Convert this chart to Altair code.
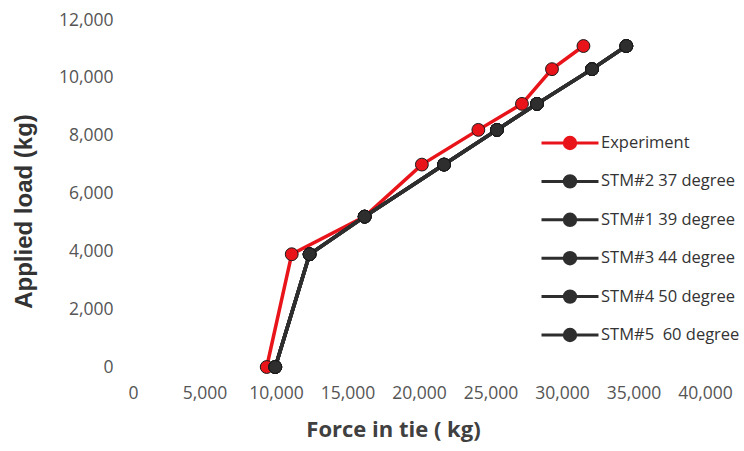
import altair as alt
import pandas as pd

# Applied load steps (kg) shared by every series
load_kg = [0, 3900, 5200, 7000, 8200, 9100, 10300, 11100]

# Measured force in the tie (kg)
experiment_force = [9350, 11100, 16200, 20200, 24150, 27200, 29300, 31500]

# Strut-and-tie model predictions (kg)
stm_names = [
    "STM#2 37 degree",
    "STM#1 39 degree",
    "STM#3 44 degree",
    "STM#4 50 degree",
    "STM#5\u00a0 60 degree",
]
stm_force = [
    [9950, 12350, 16200, 21750, 25450, 28250, 32100, 34500],
    [9950, 12350, 16200, 21750, 25450, 28250, 32100, 34500],
    [9950, 12350, 16200, 21750, 25450, 28250, 32100, 34500],
    [9950, 12350, 16200, 21750, 25450, 28250, 32100, 34500],
    [9950, 12350, 16200, 21750, 25450, 28250, 32100, 34500],
]

series_order = ["Experiment"] + stm_names
series_colors = ["#e8141a"] + ["#2e2e2e"] * len(stm_names)

exp_df = pd.DataFrame({"series": "Experiment", "force": experiment_force, "load": load_kg})
stm_df = pd.concat(
    [pd.DataFrame({"series": n, "force": f, "load": load_kg}) for n, f in zip(stm_names, stm_force)],
    ignore_index=True,
)

FONT = "Open Sans"

# Legend glyph: a short line with a dot in the middle (drawn wider than the unit box
# so that the legend rows stay compact)
legend_glyph = "M-2,0L2,0M0.4,0A0.4,0.4 0 1,1 -0.4,0A0.4,0.4 0 1,1 0.4,0Z"

color = alt.Color(
    "series:N",
    scale=alt.Scale(domain=series_order, range=series_colors),
    sort=series_order,
    legend=alt.Legend(
        title=None,
        orient="none",
        legendX=421,
        legendY=107,
        symbolType=legend_glyph,
        symbolSize=812,
        symbolStrokeWidth=3,
        symbolOpacity=1,
        labelFont=FONT,
        labelFontSize=16.5,
        labelColor="#333333",
        labelOffset=15,
        rowPadding=10.4,
        labelLimit=300,
    ),
)

x = alt.X(
    "force:Q",
    scale=alt.Scale(domain=[0, 40000], nice=False),
    axis=alt.Axis(
        title="Force in tie ( kg)",
        values=list(range(0, 40001, 5000)),
        format=",d",
        grid=False,
        domain=False,
        ticks=False,
        labelOverlap=False,
        labelFlush=False,
        labelPadding=17,
        labelFont=FONT,
        labelFontSize=17.5,
        labelColor="#555555",
        titleFont=FONT,
        titleFontSize=22,
        titleFontWeight="bold",
        titleColor="#404040",
        titleX=260,
        titleY=69,
        titleBaseline="alphabetic",
    ),
)

y = alt.Y(
    "load:Q",
    scale=alt.Scale(domain=[0, 12000], nice=False),
    axis=alt.Axis(
        title="Applied load (kg)",
        values=list(range(0, 12001, 2000)),
        format=",d",
        grid=False,
        domain=False,
        ticks=False,
        labelOverlap=False,
        labelPadding=20,
        labelFont=FONT,
        labelFontSize=17.5,
        labelColor="#555555",
        titleFont="Liberation Sans",
        titleFontSize=24,
        titleFontWeight="bold",
        titleColor="#333333",
        titleX=-102,
        titleY=191,
        titleBaseline="alphabetic",
    ),
)


def series_layers(df):
    base = alt.Chart(df).encode(x=x, y=y, color=color, detail="series:N")
    line = base.mark_line(strokeWidth=3.5)
    dots = base.mark_point(filled=True, size=165, opacity=1, stroke="#1a1a1a", strokeWidth=1)
    return [line, dots]


chart = (
    alt.layer(*series_layers(exp_df), *series_layers(stm_df))
    .properties(
        width=572,
        height=347,
        padding={"left": 133, "top": 20, "right": 39, "bottom": 84},
        autosize=alt.AutoSizeParams(type="none"),
        background="white",
    )
    .configure_view(stroke=None)
)

chart.save("out.html", embed_options={"renderer": "svg", "actions": False})
